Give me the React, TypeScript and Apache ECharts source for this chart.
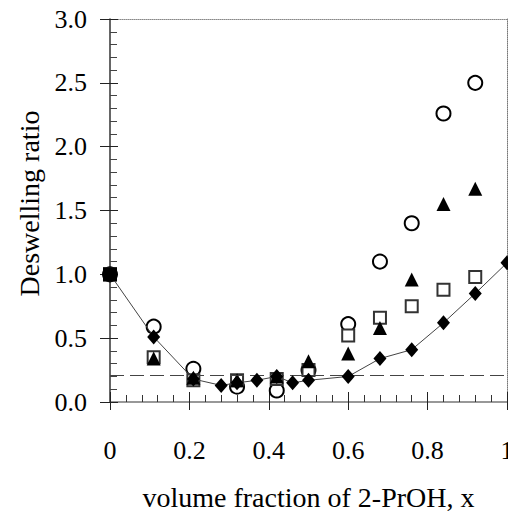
import React, { useEffect, useRef } from "react";
import * as echarts from "echarts";

const xTicks = [0, 0.2, 0.4, 0.6, 0.8, 1];

// filled diamonds with connecting line
const diamondX = [0, 0.11, 0.21, 0.28, 0.32, 0.37, 0.42, 0.46, 0.5, 0.6, 0.68, 0.76, 0.84, 0.92, 1.0];
const diamondY = [1.0, 0.51, 0.18, 0.13, 0.15, 0.17, 0.2, 0.15, 0.17, 0.2, 0.34, 0.41, 0.62, 0.85, 1.09];

// open circles
const circleX = [0, 0.11, 0.21, 0.32, 0.42, 0.5, 0.6, 0.68, 0.76, 0.84, 0.92];
const circleY = [1.0, 0.59, 0.26, 0.12, 0.09, 0.25, 0.61, 1.1, 1.4, 2.26, 2.5];

// filled triangles
const triX = [0, 0.11, 0.21, 0.32, 0.42, 0.5, 0.6, 0.68, 0.76, 0.84, 0.92];
const triY = [1.0, 0.34, 0.19, 0.17, 0.2, 0.32, 0.38, 0.58, 0.96, 1.55, 1.67];

// open squares
const sqX = [0, 0.11, 0.21, 0.32, 0.42, 0.5, 0.6, 0.68, 0.76, 0.84, 0.92];
const sqY = [1.0, 0.35, 0.17, 0.17, 0.18, 0.25, 0.52, 0.66, 0.75, 0.88, 0.98];

const refLine = 0.21;

const FONT = "Liberation Serif";

export default function App() {
  const ref = useRef<HTMLDivElement>(null);
  useEffect(() => {
    if (!ref.current) return;
    const chart = echarts.init(ref.current, undefined, { renderer: "svg" });
    const zip = (xs: number[], ys: number[]) => xs.map((x, i) => [x, ys[i]]);
    const gridH = 511 - 19 - 109;
    const gridW = 508 - 110 - 1;
    const labelStyle = { fontFamily: FONT, fontSize: 26, color: "#000", fontWeight: "normal" };
    const option = {
      animation: false,
      backgroundColor: "#fff",
      textStyle: { fontFamily: FONT, color: "#000" },
      grid: { left: 110, right: 1, top: 19, bottom: 109, containLabel: false, outerBoundsMode: "none" },
      xAxis: [
        {
          type: "value",
          min: 0,
          max: 1,
          interval: 0.2,
          position: "bottom",
          name: "volume fraction of 2-PrOH, x",
          nameLocation: "middle",
          nameGap: 81,
          nameMoveOverlap: false,
          nameTextStyle: { fontFamily: FONT, fontSize: 28, color: "#000" },
          axisLine: { onZero: false, lineStyle: { color: "#777", width: 1.5 } },
          axisTick: { show: true, inside: false, length: 8, lineStyle: { color: "#222", width: 1 } },
          axisLabel: {
            ...labelStyle,
            margin: 35,
            hideOverlap: false,
            formatter: (v: number) => (xTicks.indexOf(v) >= 0 ? String(v) : ""),
          },
          splitLine: { show: false },
        },
        {
          type: "value",
          min: 0,
          max: 1,
          interval: 0.2,
          position: "top",
          offset: -gridH,
          axisLine: { show: false, onZero: false },
          axisTick: { show: true, inside: false, length: 10, lineStyle: { color: "#222", width: 1 } },
          minorTick: { show: true, splitNumber: 5, length: 7, lineStyle: { color: "#333", width: 1 } },
          axisLabel: { show: false },
          splitLine: { show: false },
        },
        {
          type: "value",
          min: 0,
          max: 1,
          position: "top",
          axisLine: { show: true, onZero: false, lineStyle: { color: "#888", width: 1, type: [1, 1] } },
          axisTick: { show: false },
          axisLabel: { show: false },
          splitLine: { show: false },
        },
      ],
      yAxis: [
        {
          type: "value",
          min: 0,
          max: 3,
          interval: 0.5,
          position: "left",
          name: "Deswelling ratio",
          nameLocation: "middle",
          nameGap: 67,
          nameMoveOverlap: false,
          nameTextStyle: { fontFamily: FONT, fontSize: 28, color: "#000", padding: [0, 0, 0, 14] },
          axisLine: { onZero: false, lineStyle: { color: "#333", width: 1.5 } },
          axisTick: { show: true, inside: false, length: 10, lineStyle: { color: "#222", width: 1 } },
          axisLabel: { show: false },
          splitLine: { show: false },
        },
        {
          type: "value",
          min: 0,
          max: 3,
          interval: 0.5,
          position: "right",
          offset: -gridW,
          axisLine: { show: false, onZero: false },
          axisTick: { show: true, inside: false, length: 8, lineStyle: { color: "#222", width: 1 } },
          minorTick: { show: true, splitNumber: 5, length: 7, lineStyle: { color: "#444", width: 1 } },
          axisLabel: { show: false },
          splitLine: { show: false },
        },
        {
          type: "value",
          min: 0,
          max: 3,
          position: "right",
          axisLine: { show: true, onZero: false, lineStyle: { color: "#777", width: 1, type: [1, 1] } },
          axisTick: { show: false },
          axisLabel: { show: false },
          splitLine: { show: false },
        },
        {
          type: "value",
          min: 0,
          max: 3,
          interval: 0.5,
          position: "left",
          offset: 15,
          axisLine: { show: false, onZero: false },
          axisTick: { show: false },
          axisLabel: {
            ...labelStyle,
            margin: 8,
            formatter: (v: number) => v.toFixed(1),
          },
          splitLine: { show: false },
        },
      ],
      series: [
        {
          type: "scatter",
          name: "circle",
          data: zip(circleX, circleY),
          symbol: "emptyCircle",
          symbolSize: 14,
          itemStyle: { color: "#000", borderColor: "#000", borderWidth: 1.5, opacity: 1 },
          z: 2,
        },
        {
          type: "scatter",
          name: "square",
          data: zip(sqX, sqY),
          symbol: "emptyRect",
          symbolSize: 12,
          itemStyle: { color: "#333", borderColor: "#333", borderWidth: 1.5, opacity: 1 },
          z: 3,
        },
        {
          type: "scatter",
          name: "triangle",
          data: zip(triX, triY),
          symbol: "triangle",
          symbolSize: 14,
          itemStyle: { color: "#000", opacity: 1 },
          z: 4,
        },
        {
          type: "line",
          name: "diamond",
          data: zip(diamondX, diamondY).map((d, i) =>
            i === 0 ? { value: d, symbol: "rect", symbolSize: 14 } : d
          ),
          symbol: "diamond",
          symbolSize: [13, 15],
          itemStyle: { color: "#000", opacity: 1 },
          lineStyle: { color: "#444", width: 1 },
          z: 5,
          markLine: {
            silent: true,
            symbol: ["none", "none"],
            label: { show: false },
            lineStyle: { color: "#444", width: 1, type: [14, 6] },
            data: [{ yAxis: refLine }],
          },
        },
      ],
    };
    chart.setOption(option as any);
    return () => chart.dispose();
  }, []);
  return (
    <div
      ref={ref}
      style={{ position: "fixed", left: 0, top: 0, width: 508, height: 511, background: "#fff" }}
    />
  );
}
